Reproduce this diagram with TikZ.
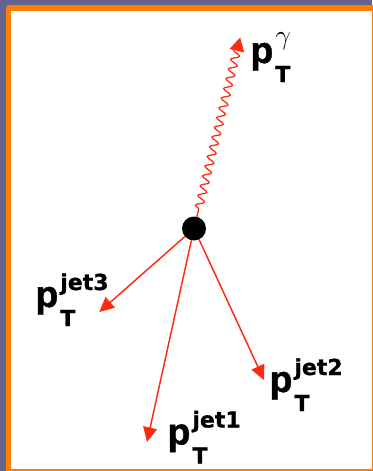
\documentclass[tikz,border=0pt]{standalone}
\usepackage{fontspec}
\setmainfont{Liberation Sans}
\newfontfamily\pfnt[FakeBold=1.2]{Liberation Sans Bold}
\newfontfamily\scriptfnt[FakeBold=0.8]{DejaVu Sans Bold}
\usetikzlibrary{arrows.meta,decorations.pathmorphing}
\definecolor{bgblue}{RGB}{99,101,144}
\definecolor{frameor}{RGB}{255,125,0}
\definecolor{arrred}{RGB}{255,42,20}
\newcommand{\ptlab}[2][12.75pt]{{\fontsize{28pt}{28pt}\pfnt p}\kern1.5pt\rlap{\raisebox{#1}{\fontsize{16.5pt}{16.5pt}\scriptfnt #2}}\raisebox{-14.25pt}{\fontsize{16.5pt}{16.5pt}\scriptfnt T}}
\tikzset{
  lab/.style={inner sep=0pt, outer sep=0pt, anchor=base west, text=black},
  jetarrow/.style={draw=arrred, line width=1.1pt, -{Triangle[length=11pt,width=10.5pt]}, arrred},
  photon/.style={draw=arrred, line width=0.95pt, -{Triangle[length=10pt,width=11pt]}, arrred,
    decorate, decoration={snake, amplitude=3pt, segment length=7.5pt, pre length=6pt, post length=3pt}},
  vertex/.style={circle, fill=black, minimum size=18pt, inner sep=0pt, outer sep=0pt}
}
\begin{document}
\begin{tikzpicture}[x=0.75pt, y=-0.75pt]
\useasboundingbox (0,0) rectangle (372,471);
\fill[bgblue] (0,0) rectangle (372,471);
\fill[frameor, rounded corners=2.5pt] (6,5) rectangle (390,490);
\fill[white] (11,11) rectangle (372,468.5);
\node[vertex] (v) at (194,228.5) {};
\coordinate (tg) at (240,37.7);
\coordinate (t3) at (99.3,312);
\coordinate (t1) at (147,442);
\coordinate (t2) at (264,380);
\draw[photon] (v) -- (tg);
\draw[jetarrow] (v) -- (t3);
\draw[jetarrow] (v) -- (t1);
\draw[jetarrow] (v) -- (t2);
\node[lab] (lg) at (250.5,63) {\ptlab[14pt]{\fontsize{20pt}{20pt}\selectfont$\gamma$}};
\node[lab] (l3) at (35.5,307) {\ptlab{jet3}};
\node[lab] (l2) at (269.6,392) {\ptlab{jet2}};
\node[lab] (l1) at (167.6,444.5) {\ptlab{jet1}};
\end{tikzpicture}
\end{document}
